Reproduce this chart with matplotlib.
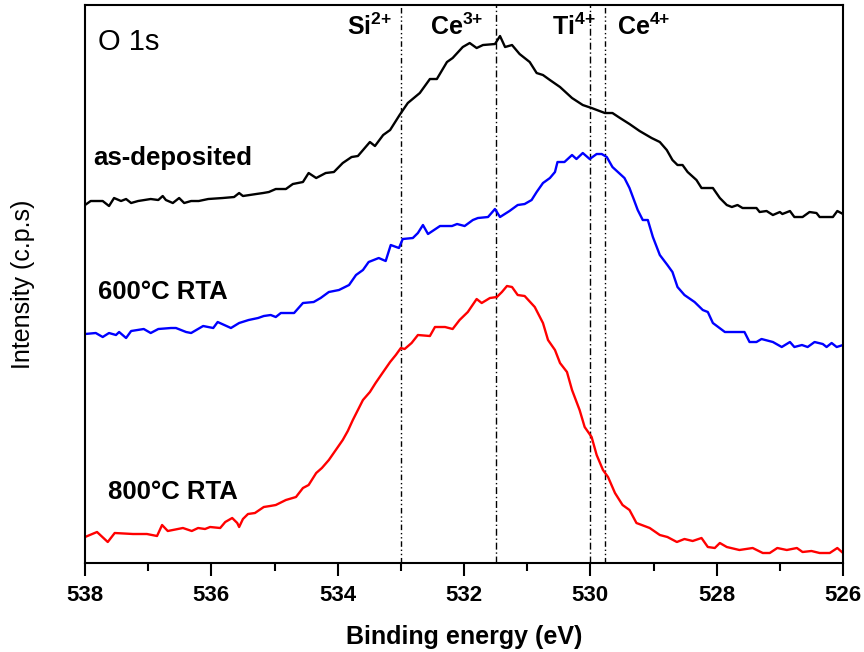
import matplotlib
matplotlib.use('Agg')
import matplotlib.pyplot as plt
from matplotlib.ticker import MultipleLocator

plt.rcParams['font.family'] = ['Liberation Sans', 'DejaVu Sans']
plt.rcParams['mathtext.fontset'] = 'custom'
plt.rcParams['mathtext.bf'] = 'Liberation Sans:bold'
plt.rcParams['mathtext.rm'] = 'Liberation Sans'

# binding energy (eV) and intensity (arb. c.p.s)
be_asdep = [538.00, 537.91, 537.72, 537.62, 537.54, 537.43, 537.35, 537.27, 537.16, 536.96,
            536.84, 536.77, 536.72, 536.61, 536.51, 536.43, 536.32, 536.20, 536.05, 535.82,
            535.64, 535.56, 535.50, 535.29, 535.18, 535.09, 534.98, 534.82, 534.71, 534.55,
            534.46, 534.34, 534.19, 534.06, 533.92, 533.78, 533.68, 533.49, 533.41, 533.28,
            533.17, 533.02, 532.89, 532.70, 532.54, 532.43, 532.27, 532.18, 532.02, 531.91,
            531.80, 531.70, 531.51, 531.43, 531.35, 531.24, 531.12, 530.96, 530.85, 530.75,
            530.64, 530.48, 530.29, 530.12, 529.98, 529.77, 529.65, 529.53, 529.38, 529.22,
            529.03, 528.90, 528.79, 528.70, 528.62, 528.54, 528.46, 528.32, 528.24, 528.06,
            527.95, 527.84, 527.76, 527.67, 527.59, 527.37, 527.32, 527.21, 527.11, 527.00,
            526.96, 526.84, 526.77, 526.64, 526.53, 526.42, 526.37, 526.16, 526.09, 526.00]
int_asdep = [358, 362, 362, 357, 365, 362, 364, 360, 362, 364,
             363, 367, 363, 360, 365, 360, 362, 362, 364, 365,
             366, 370, 367, 369, 370, 371, 374, 374, 379, 381,
             390, 385, 390, 391, 400, 406, 407, 421, 417, 428,
             433, 448, 460, 470, 484, 484, 501, 505, 516, 520,
             515, 518, 519, 527, 516, 518, 509, 501, 490, 488,
             483, 476, 465, 458, 455, 450, 450, 445, 439, 432,
             425, 421, 413, 403, 398, 398, 391, 383, 375, 375,
             365, 358, 356, 358, 355, 355, 351, 352, 348, 351,
             349, 352, 346, 346, 351, 350, 346, 346, 352, 349]

be_600 = [538.00, 537.83, 537.72, 537.62, 537.51, 537.46, 537.35, 537.27, 537.07, 536.96,
          536.84, 536.64, 536.56, 536.40, 536.32, 536.13, 535.97, 535.90, 535.69, 535.56,
          535.41, 535.26, 535.17, 535.06, 534.98, 534.90, 534.69, 534.55, 534.38, 534.27,
          534.14, 533.98, 533.82, 533.71, 533.60, 533.51, 533.35, 533.24, 533.16, 533.03,
          532.97, 532.81, 532.73, 532.65, 532.57, 532.38, 532.19, 532.11, 531.99, 531.86,
          531.78, 531.62, 531.51, 531.43, 531.28, 531.15, 531.04, 530.93, 530.85, 530.75,
          530.64, 530.56, 530.52, 530.41, 530.29, 530.22, 530.12, 530.01, 529.90, 529.82,
          529.74, 529.65, 529.46, 529.38, 529.25, 529.17, 529.09, 529.01, 528.90, 528.78,
          528.70, 528.62, 528.51, 528.35, 528.22, 528.14, 528.06, 527.87, 527.56, 527.48,
          527.37, 527.29, 527.11, 526.97, 526.84, 526.77, 526.65, 526.56, 526.45, 526.32,
          526.26, 526.18, 526.10, 526.00]
int_600 = [229, 230, 226, 230, 228, 231, 225, 232, 234, 230,
           234, 235, 235, 231, 230, 237, 235, 241, 235, 240,
           243, 245, 247, 248, 246, 250, 250, 260, 261, 265,
           271, 273, 278, 288, 293, 301, 305, 302, 318, 315,
           324, 325, 330, 338, 329, 337, 337, 339, 337, 343,
           345, 346, 354, 346, 352, 358, 359, 363, 371, 380,
           385, 391, 401, 401, 408, 404, 410, 404, 409, 409,
           406, 396, 385, 375, 353, 343, 343, 326, 308, 298,
           291, 276, 268, 261, 253, 251, 240, 231, 231, 221,
           221, 224, 221, 216, 221, 216, 218, 216, 221, 219,
           216, 220, 216, 218]

be_800 = [538.00, 537.81, 537.64, 537.53, 537.24, 537.02, 536.86, 536.78, 536.69, 536.45,
          536.31, 536.21, 536.10, 536.02, 535.86, 535.78, 535.67, 535.59, 535.56, 535.50,
          535.42, 535.31, 535.17, 535.07, 534.98, 534.82, 534.66, 534.55, 534.46, 534.34,
          534.25, 534.14, 534.03, 533.92, 533.84, 533.76, 533.68, 533.60, 533.49, 533.40,
          533.28, 533.17, 533.08, 533.00, 532.94, 532.83, 532.73, 532.54, 532.46, 532.30,
          532.18, 532.07, 531.94, 531.80, 531.72, 531.59, 531.48, 531.40, 531.32, 531.24,
          531.15, 531.04, 530.88, 530.75, 530.67, 530.56, 530.48, 530.37, 530.29, 530.17,
          530.09, 529.98, 529.90, 529.80, 529.72, 529.61, 529.49, 529.38, 529.27, 529.06,
          528.90, 528.78, 528.63, 528.51, 528.38, 528.24, 528.14, 528.03, 527.95, 527.84,
          527.64, 527.43, 527.27, 527.16, 527.04, 526.89, 526.73, 526.64, 526.50, 526.37,
          526.21, 526.09, 526.00]
int_800 = [26, 31, 21, 30, 29, 29, 27, 38, 32, 35,
           32, 35, 34, 36, 35, 41, 45, 40, 36, 44,
           49, 50, 56, 57, 58, 63, 66, 75, 78, 90,
           95, 103, 113, 123, 132, 143, 153, 163, 171, 180,
           191, 201, 208, 215, 214, 220, 228, 227, 236, 236,
           234, 243, 251, 264, 260, 265, 266, 271, 277, 276,
           268, 267, 256, 240, 223, 213, 200, 191, 173, 153,
           136, 126, 108, 93, 86, 70, 58, 53, 40, 35,
           28, 26, 21, 24, 22, 25, 16, 15, 20, 16,
           13, 15, 10, 10, 15, 13, 15, 11, 12, 10,
           10, 15, 10]

# reference binding energies
ref_pos = [533.0, 531.5, 530.0, 529.77]
ref_styles = [(0, (4, 2, 1, 2, 1, 2)), (0, (5, 2, 1, 2)), (0, (5, 2, 1, 2)), (0, (4, 2, 1, 2, 1, 2))]
ref_labels = [r'$\mathbf{Si^{2{+}}}$', r'$\mathbf{Ce^{3{+}}}$', r'$\mathbf{Ti^{4{+}}}$', r'$\mathbf{Ce^{4{+}}}$']
ref_label_x = [533.14, 532.54, 530.61, 529.58]
ref_label_ha = ['right', 'left', 'left', 'left']

fig = plt.figure(figsize=(8.64, 6.52), dpi=100)
ax = fig.add_axes([0.0984, 0.1365, 0.8773, 0.8558])

for x, ls in zip(ref_pos, ref_styles):
    ax.axvline(x, color='black', lw=1.0, linestyle=ls)

ax.plot(be_asdep, int_asdep, color='black', lw=1.7)
ax.plot(be_600, int_600, color='#0000ff', lw=1.7)
ax.plot(be_800, int_800, color='#ff0000', lw=1.7)

for lab, x, ha in zip(ref_labels, ref_label_x, ref_label_ha):
    ax.text(x, 528, lab, fontsize=18, ha=ha, va='baseline')

ax.text(537.79, 521, 'O 1s', fontsize=21, va='center', ha='left')
ax.text(537.87, 405, 'as-deposited', fontsize=18.5, fontweight='bold', va='center')
ax.text(537.79, 271, '600°C RTA', fontsize=18.5, fontweight='bold', va='center')
ax.text(537.64, 71, '800°C RTA', fontsize=18.5, fontweight='bold', va='center')

ax.set_xlim(538, 526)
ax.set_ylim(0, 558)
ax.xaxis.set_major_locator(MultipleLocator(2))
ax.xaxis.set_minor_locator(MultipleLocator(1))
ax.set_yticks([])
ax.tick_params(axis='x', which='major', direction='out', length=9.5, width=1.5,
               labelsize=16, pad=6)
ax.tick_params(axis='x', which='minor', direction='out', length=5.5, width=1.5)
for lbl in ax.get_xticklabels():
    lbl.set_fontweight('bold')
for sp in ax.spines.values():
    sp.set_linewidth(1.5)

ax.set_xlabel('Binding energy (eV)', fontsize=18, fontweight='bold', labelpad=14)
ax.set_ylabel('Intensity (c.p.s)', fontsize=18, labelpad=36)

fig.savefig('out.png', dpi=100)
